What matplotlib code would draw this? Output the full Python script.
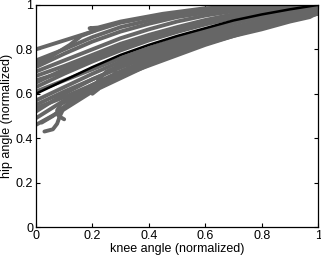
import numpy as np
import matplotlib.pyplot as plt

plt.rcParams['font.family'] = ['Liberation Sans', 'DejaVu Sans']

# common knee-angle grid for the regular trials
grid_x = [0.0, 0.1, 0.2, 0.3, 0.4, 0.5, 0.6, 0.7, 0.8, 0.9, 1.0]

# hip angle of the regular trials on grid_x
trials_y = [
    [0.80, 0.84, 0.88, 0.92, 0.945, 0.965, 0.98, 0.99, 0.997, 1.0, 1.0],
    [0.75, 0.80, 0.855, 0.90, 0.93, 0.955, 0.972, 0.985, 0.994, 0.999, 1.0],
    [0.72, 0.78, 0.835, 0.88, 0.915, 0.945, 0.965, 0.98, 0.99, 0.997, 1.0],
    [0.70, 0.75, 0.80, 0.85, 0.89, 0.925, 0.952, 0.972, 0.986, 0.995, 1.0],
    [0.68, 0.725, 0.775, 0.825, 0.865, 0.90, 0.932, 0.958, 0.977, 0.99, 0.995],
    [0.66, 0.70, 0.75, 0.80, 0.845, 0.885, 0.92, 0.948, 0.97, 0.985, 0.99],
    [0.65, 0.71, 0.765, 0.81, 0.855, 0.893, 0.925, 0.953, 0.975, 0.99, 0.998],
    [0.63, 0.69, 0.745, 0.795, 0.84, 0.878, 0.912, 0.942, 0.966, 0.984, 0.995],
    [0.61, 0.66, 0.71, 0.76, 0.805, 0.848, 0.888, 0.922, 0.952, 0.975, 0.99],
    [0.57, 0.63, 0.69, 0.745, 0.795, 0.84, 0.88, 0.915, 0.945, 0.968, 0.98],
    [0.55, 0.61, 0.665, 0.72, 0.77, 0.815, 0.855, 0.895, 0.93, 0.96, 0.975],
    [0.535, 0.585, 0.64, 0.70, 0.755, 0.80, 0.84, 0.878, 0.913, 0.945, 0.968],
    [0.52, 0.60, 0.665, 0.72, 0.77, 0.815, 0.855, 0.89, 0.925, 0.955, 0.975],
    [0.49, 0.57, 0.64, 0.70, 0.75, 0.80, 0.845, 0.88, 0.915, 0.945, 0.97],
    [0.46, 0.53, 0.61, 0.67, 0.73, 0.785, 0.83, 0.87, 0.905, 0.935, 0.96],
]

# trials with hooks / loops, each with its own knee-angle samples
hook_low_x = [0.03, 0.06, 0.075, 0.085, 0.10, 0.14, 0.2, 0.3, 0.4, 0.5, 0.6, 0.7, 0.8, 0.9, 0.97, 1.0]
hook_low_y = [0.43, 0.44, 0.465, 0.50, 0.54, 0.575, 0.615, 0.675, 0.74, 0.79, 0.825, 0.86, 0.89, 0.925, 0.945, 0.965]
hook_mid_x = [0.10, 0.08, 0.075, 0.09, 0.18, 0.30, 0.45, 0.60, 0.75, 0.90, 1.0]
hook_mid_y = [0.485, 0.50, 0.525, 0.555, 0.61, 0.69, 0.77, 0.835, 0.89, 0.94, 0.975]
loop_x = [0.28, 0.31, 0.33, 0.32, 0.29, 0.28, 0.35, 0.50, 0.65, 0.80, 0.90, 1.0]
loop_y = [0.695, 0.69, 0.71, 0.745, 0.735, 0.71, 0.745, 0.80, 0.86, 0.91, 0.945, 0.97]
wiggle_x = [0.0, 0.05, 0.12, 0.16, 0.19, 0.21, 0.19, 0.22, 0.30, 0.45, 0.60, 0.80, 1.0]
wiggle_y = [0.735, 0.765, 0.82, 0.86, 0.875, 0.885, 0.895, 0.898, 0.925, 0.96, 0.985, 0.997, 1.0]
late_x = [0.20, 0.22, 0.22, 0.25, 0.35, 0.50, 0.65, 0.80, 1.0]
late_y = [0.60, 0.62, 0.66, 0.70, 0.76, 0.83, 0.885, 0.93, 0.985]
early_x = [0.02, 0.06, 0.12, 0.20, 0.30, 0.45, 0.60, 0.75, 0.90, 1.0]
early_y = [0.47, 0.50, 0.56, 0.62, 0.68, 0.75, 0.82, 0.88, 0.935, 0.96]

# mean trajectory
mean_y = [0.60, 0.66, 0.72, 0.775, 0.82, 0.86, 0.895, 0.93, 0.957, 0.98, 1.0]

fig = plt.figure(figsize=(3.21, 2.58), dpi=100)
ax = fig.add_axes([0.112, 0.120, 0.879, 0.861])

gray = '#666666'
kw = dict(color=gray, lw=2.8, solid_capstyle='round', solid_joinstyle='round')
for ty in trials_y:
    ax.plot(grid_x, ty, **kw)
for xs, ys in [(hook_low_x, hook_low_y), (hook_mid_x, hook_mid_y), (loop_x, loop_y),
               (wiggle_x, wiggle_y), (late_x, late_y), (early_x, early_y)]:
    ax.plot(xs, ys, **kw)
ax.plot(grid_x, mean_y, color='black', lw=1.8)

ax.set_xlim(0, 1)
ax.set_ylim(0, 1)
ticks = [0, 0.2, 0.4, 0.6, 0.8, 1]
labels = ['0', '0.2', '0.4', '0.6', '0.8', '1']
ax.set_xticks(ticks)
ax.set_xticklabels(labels)
ax.set_yticks(ticks)
ax.set_yticklabels(labels)
ax.tick_params(direction='in', length=3, width=0.8, top=True, right=True,
               labelsize=9, pad=2)
for s in ax.spines.values():
    s.set_linewidth(0.9)
ax.set_xlabel('knee angle (normalized)', fontsize=9, labelpad=1)
ax.set_ylabel('hip angle (normalized)', fontsize=9, labelpad=2)

fig.savefig('out.png', dpi=100)
